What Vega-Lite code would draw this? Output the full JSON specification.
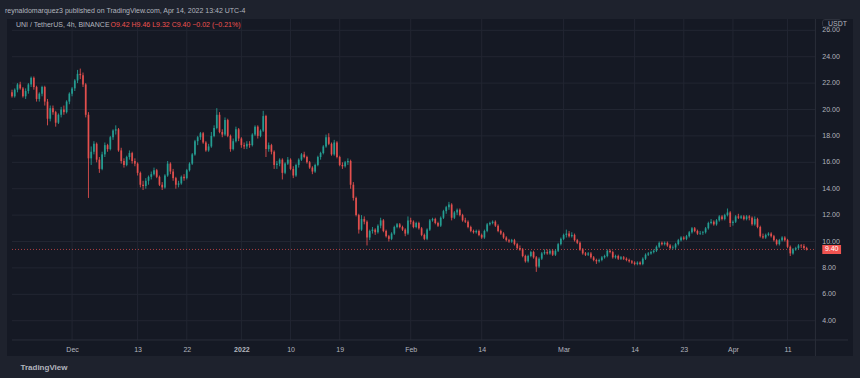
{
"$schema":"https://vega.github.io/schema/vega-lite/v6.json",
"width":846,"height":337,
"autosize":{"type":"none"},
"padding":{"left":7,"top":19,"right":7,"bottom":22},
"background":"#1e222d",
"view":{"fill":"#151924","stroke":null},
"config":{"font":"Liberation Sans","axis":{"labelOverlap":false,"labelBound":false}},
"title":{"text":"reynaldomarquez3 published on TradingView.com, Apr 14, 2022 13:42 UTC-4","anchor":"start","frame":"group","offset":5,"dx":-2,"fontSize":7,"fontWeight":"normal","color":"#b2b5be","font":"Liberation Sans"},
"datasets":{
"yg":[{"v":4},{"v":6},{"v":8},{"v":10},{"v":12},{"v":14},{"v":16},{"v":18},{"v":20},{"v":22},{"v":24},{"v":26}],
"xg":[{"d":"2021-12-01T00:00"},{"d":"2021-12-13T00:00"},{"d":"2021-12-22T00:00"},{"d":"2022-01-01T00:00"},{"d":"2022-01-10T00:00"},{"d":"2022-01-19T00:00"},{"d":"2022-02-01T00:00"},{"d":"2022-02-14T00:00"},{"d":"2022-03-01T00:00"},{"d":"2022-03-14T00:00"},{"d":"2022-03-23T00:00"},{"d":"2022-04-01T00:00"},{"d":"2022-04-11T00:00"}],
"k":[
{"t":"2021-11-20T00:00","o":21.3,"h":21.5,"l":20.9,"c":21.0},
{"t":"2021-11-20T12:00","o":21.0,"h":21.6,"l":20.9,"c":21.5},
{"t":"2021-11-21T00:00","o":21.5,"h":22.0,"l":21.3,"c":21.9},
{"t":"2021-11-21T12:00","o":21.9,"h":22.1,"l":21.5,"c":21.6},
{"t":"2021-11-22T00:00","o":21.6,"h":21.7,"l":20.9,"c":21.0},
{"t":"2021-11-22T12:00","o":21.0,"h":21.6,"l":20.8,"c":21.4},
{"t":"2021-11-23T00:00","o":21.4,"h":22.0,"l":21.2,"c":21.9},
{"t":"2021-11-23T12:00","o":21.9,"h":22.5,"l":21.7,"c":22.4},
{"t":"2021-11-24T00:00","o":22.4,"h":22.5,"l":21.5,"c":21.7},
{"t":"2021-11-24T12:00","o":21.7,"h":21.8,"l":20.6,"c":20.8},
{"t":"2021-11-25T00:00","o":20.8,"h":21.3,"l":20.6,"c":21.2},
{"t":"2021-11-25T12:00","o":21.2,"h":21.8,"l":21.0,"c":21.7},
{"t":"2021-11-26T00:00","o":21.7,"h":21.8,"l":20.3,"c":20.6},
{"t":"2021-11-26T12:00","o":20.6,"h":20.8,"l":18.8,"c":19.3},
{"t":"2021-11-27T00:00","o":19.3,"h":20.3,"l":19.1,"c":20.1},
{"t":"2021-11-27T12:00","o":20.1,"h":20.3,"l":19.6,"c":19.8},
{"t":"2021-11-28T00:00","o":19.8,"h":19.9,"l":18.7,"c":19.0},
{"t":"2021-11-28T12:00","o":19.0,"h":19.7,"l":18.9,"c":19.6},
{"t":"2021-11-29T00:00","o":19.6,"h":20.2,"l":19.4,"c":20.0},
{"t":"2021-11-29T12:00","o":20.0,"h":20.3,"l":19.6,"c":19.8},
{"t":"2021-11-30T00:00","o":19.8,"h":20.7,"l":19.7,"c":20.6},
{"t":"2021-11-30T12:00","o":20.6,"h":21.3,"l":20.4,"c":21.2},
{"t":"2021-12-01T00:00","o":21.2,"h":21.7,"l":21.0,"c":21.6},
{"t":"2021-12-01T12:00","o":21.6,"h":22.3,"l":21.4,"c":22.2},
{"t":"2021-12-02T00:00","o":22.2,"h":23.0,"l":22.0,"c":22.7},
{"t":"2021-12-02T12:00","o":22.7,"h":23.1,"l":22.3,"c":22.6},
{"t":"2021-12-03T00:00","o":22.6,"h":22.8,"l":21.7,"c":21.9},
{"t":"2021-12-03T12:00","o":21.9,"h":22.0,"l":19.4,"c":19.6},
{"t":"2021-12-04T00:00","o":19.6,"h":19.8,"l":13.3,"c":16.3},
{"t":"2021-12-04T12:00","o":16.3,"h":17.2,"l":15.8,"c":16.8},
{"t":"2021-12-05T00:00","o":16.8,"h":17.6,"l":16.6,"c":17.4},
{"t":"2021-12-05T12:00","o":17.4,"h":17.5,"l":16.0,"c":16.2},
{"t":"2021-12-06T00:00","o":16.2,"h":16.4,"l":15.2,"c":15.5},
{"t":"2021-12-06T12:00","o":15.5,"h":16.8,"l":15.4,"c":16.6},
{"t":"2021-12-07T00:00","o":16.6,"h":17.5,"l":16.4,"c":17.3},
{"t":"2021-12-07T12:00","o":17.3,"h":17.4,"l":16.8,"c":17.0},
{"t":"2021-12-08T00:00","o":17.0,"h":18.0,"l":16.9,"c":17.9},
{"t":"2021-12-08T12:00","o":17.9,"h":18.5,"l":17.7,"c":18.4},
{"t":"2021-12-09T00:00","o":18.4,"h":18.8,"l":18.1,"c":18.5},
{"t":"2021-12-09T12:00","o":18.5,"h":18.6,"l":16.8,"c":16.9},
{"t":"2021-12-10T00:00","o":16.9,"h":17.1,"l":15.9,"c":16.1},
{"t":"2021-12-10T12:00","o":16.1,"h":16.3,"l":15.6,"c":15.8},
{"t":"2021-12-11T00:00","o":15.8,"h":16.5,"l":15.7,"c":16.4},
{"t":"2021-12-11T12:00","o":16.4,"h":16.9,"l":16.2,"c":16.7},
{"t":"2021-12-12T00:00","o":16.7,"h":16.8,"l":15.9,"c":16.1},
{"t":"2021-12-12T12:00","o":16.1,"h":16.3,"l":15.7,"c":15.9},
{"t":"2021-12-13T00:00","o":15.9,"h":16.0,"l":15.0,"c":15.2},
{"t":"2021-12-13T12:00","o":15.2,"h":15.3,"l":14.1,"c":14.3},
{"t":"2021-12-14T00:00","o":14.3,"h":14.6,"l":13.9,"c":14.2},
{"t":"2021-12-14T12:00","o":14.2,"h":14.8,"l":14.0,"c":14.6},
{"t":"2021-12-15T00:00","o":14.6,"h":15.0,"l":14.3,"c":14.9},
{"t":"2021-12-15T12:00","o":14.9,"h":15.3,"l":14.7,"c":15.1},
{"t":"2021-12-16T00:00","o":15.1,"h":15.6,"l":15.0,"c":15.4},
{"t":"2021-12-16T12:00","o":15.4,"h":15.5,"l":14.8,"c":14.9},
{"t":"2021-12-17T00:00","o":14.9,"h":15.0,"l":14.2,"c":14.3},
{"t":"2021-12-17T12:00","o":14.3,"h":14.5,"l":13.9,"c":14.1},
{"t":"2021-12-18T00:00","o":14.1,"h":15.1,"l":14.0,"c":15.0},
{"t":"2021-12-18T12:00","o":15.0,"h":16.1,"l":14.9,"c":15.9},
{"t":"2021-12-19T00:00","o":15.9,"h":16.0,"l":15.1,"c":15.3},
{"t":"2021-12-19T12:00","o":15.3,"h":15.5,"l":14.6,"c":14.8},
{"t":"2021-12-20T00:00","o":14.8,"h":14.9,"l":14.0,"c":14.3},
{"t":"2021-12-20T12:00","o":14.3,"h":14.6,"l":14.1,"c":14.4},
{"t":"2021-12-21T00:00","o":14.4,"h":15.0,"l":14.3,"c":14.9},
{"t":"2021-12-21T12:00","o":14.9,"h":15.1,"l":14.6,"c":14.8},
{"t":"2021-12-22T00:00","o":14.8,"h":15.5,"l":14.7,"c":15.4},
{"t":"2021-12-22T12:00","o":15.4,"h":16.0,"l":15.3,"c":15.9},
{"t":"2021-12-23T00:00","o":15.9,"h":16.7,"l":15.8,"c":16.6},
{"t":"2021-12-23T12:00","o":16.6,"h":17.7,"l":16.5,"c":17.6},
{"t":"2021-12-24T00:00","o":17.6,"h":18.0,"l":17.3,"c":17.9},
{"t":"2021-12-24T12:00","o":17.9,"h":18.3,"l":17.7,"c":18.2},
{"t":"2021-12-25T00:00","o":18.2,"h":18.3,"l":17.4,"c":17.5},
{"t":"2021-12-25T12:00","o":17.5,"h":17.6,"l":16.8,"c":16.9},
{"t":"2021-12-26T00:00","o":16.9,"h":17.4,"l":16.8,"c":17.2},
{"t":"2021-12-26T12:00","o":17.2,"h":18.3,"l":17.1,"c":18.0},
{"t":"2021-12-27T00:00","o":18.0,"h":18.8,"l":17.9,"c":18.6},
{"t":"2021-12-27T12:00","o":18.6,"h":20.1,"l":18.5,"c":19.6},
{"t":"2021-12-28T00:00","o":19.6,"h":19.8,"l":18.2,"c":18.3},
{"t":"2021-12-28T12:00","o":18.3,"h":18.5,"l":17.9,"c":18.1},
{"t":"2021-12-29T00:00","o":18.1,"h":19.4,"l":18.0,"c":19.2},
{"t":"2021-12-29T12:00","o":19.2,"h":19.3,"l":17.9,"c":18.0},
{"t":"2021-12-30T00:00","o":18.0,"h":18.1,"l":16.8,"c":17.0},
{"t":"2021-12-30T12:00","o":17.0,"h":17.8,"l":16.9,"c":17.6},
{"t":"2021-12-31T00:00","o":17.6,"h":18.7,"l":17.5,"c":18.5},
{"t":"2021-12-31T12:00","o":18.5,"h":18.6,"l":17.6,"c":17.8},
{"t":"2022-01-01T00:00","o":17.8,"h":17.9,"l":17.1,"c":17.3},
{"t":"2022-01-01T12:00","o":17.3,"h":17.5,"l":17.0,"c":17.2},
{"t":"2022-01-02T00:00","o":17.2,"h":17.6,"l":17.0,"c":17.4},
{"t":"2022-01-02T12:00","o":17.4,"h":17.6,"l":17.1,"c":17.3},
{"t":"2022-01-03T00:00","o":17.3,"h":18.2,"l":17.2,"c":18.1},
{"t":"2022-01-03T12:00","o":18.1,"h":18.8,"l":18.0,"c":18.7},
{"t":"2022-01-04T00:00","o":18.7,"h":18.8,"l":17.8,"c":18.0},
{"t":"2022-01-04T12:00","o":18.0,"h":18.5,"l":17.9,"c":18.4},
{"t":"2022-01-05T00:00","o":18.4,"h":19.9,"l":18.3,"c":19.5},
{"t":"2022-01-05T12:00","o":19.5,"h":19.6,"l":16.4,"c":17.0},
{"t":"2022-01-06T00:00","o":17.0,"h":17.5,"l":16.8,"c":17.3},
{"t":"2022-01-06T12:00","o":17.3,"h":17.4,"l":16.6,"c":16.8},
{"t":"2022-01-07T00:00","o":16.8,"h":16.9,"l":15.5,"c":15.8},
{"t":"2022-01-07T12:00","o":15.8,"h":16.1,"l":15.5,"c":15.9},
{"t":"2022-01-08T00:00","o":15.9,"h":16.3,"l":15.7,"c":16.2},
{"t":"2022-01-08T12:00","o":16.2,"h":16.3,"l":14.7,"c":15.2},
{"t":"2022-01-09T00:00","o":15.2,"h":16.0,"l":15.1,"c":15.9},
{"t":"2022-01-09T12:00","o":15.9,"h":16.4,"l":15.8,"c":16.2},
{"t":"2022-01-10T00:00","o":16.2,"h":16.3,"l":15.4,"c":15.5},
{"t":"2022-01-10T12:00","o":15.5,"h":15.7,"l":14.8,"c":15.0},
{"t":"2022-01-11T00:00","o":15.0,"h":15.9,"l":14.9,"c":15.8},
{"t":"2022-01-11T12:00","o":15.8,"h":16.3,"l":15.6,"c":16.2},
{"t":"2022-01-12T00:00","o":16.2,"h":16.7,"l":16.1,"c":16.6},
{"t":"2022-01-12T12:00","o":16.6,"h":16.8,"l":16.3,"c":16.4},
{"t":"2022-01-13T00:00","o":16.4,"h":16.5,"l":15.9,"c":16.0},
{"t":"2022-01-13T12:00","o":16.0,"h":16.1,"l":15.5,"c":15.6},
{"t":"2022-01-14T00:00","o":15.6,"h":15.7,"l":15.1,"c":15.3},
{"t":"2022-01-14T12:00","o":15.3,"h":15.9,"l":15.2,"c":15.8},
{"t":"2022-01-15T00:00","o":15.8,"h":16.5,"l":15.7,"c":16.4},
{"t":"2022-01-15T12:00","o":16.4,"h":16.8,"l":16.2,"c":16.7},
{"t":"2022-01-16T00:00","o":16.7,"h":17.3,"l":16.6,"c":17.2},
{"t":"2022-01-16T12:00","o":17.2,"h":18.1,"l":17.1,"c":17.9},
{"t":"2022-01-17T00:00","o":17.9,"h":18.2,"l":17.3,"c":17.4},
{"t":"2022-01-17T12:00","o":17.4,"h":17.5,"l":16.5,"c":16.6},
{"t":"2022-01-18T00:00","o":16.6,"h":17.7,"l":16.5,"c":17.5},
{"t":"2022-01-18T12:00","o":17.5,"h":17.6,"l":16.3,"c":16.4},
{"t":"2022-01-19T00:00","o":16.4,"h":16.5,"l":15.7,"c":15.8},
{"t":"2022-01-19T12:00","o":15.8,"h":16.0,"l":15.5,"c":15.7},
{"t":"2022-01-20T00:00","o":15.7,"h":16.1,"l":15.6,"c":16.0},
{"t":"2022-01-20T12:00","o":16.0,"h":16.3,"l":15.8,"c":16.1},
{"t":"2022-01-21T00:00","o":16.1,"h":16.2,"l":14.0,"c":14.3},
{"t":"2022-01-21T12:00","o":14.3,"h":14.5,"l":13.1,"c":13.3},
{"t":"2022-01-22T00:00","o":13.3,"h":13.4,"l":11.9,"c":12.0},
{"t":"2022-01-22T12:00","o":12.0,"h":12.1,"l":10.6,"c":10.9},
{"t":"2022-01-23T00:00","o":10.9,"h":12.0,"l":10.8,"c":11.7},
{"t":"2022-01-23T12:00","o":11.7,"h":11.9,"l":11.3,"c":11.5},
{"t":"2022-01-24T00:00","o":11.5,"h":11.6,"l":9.7,"c":10.3},
{"t":"2022-01-24T12:00","o":10.3,"h":10.9,"l":10.1,"c":10.8},
{"t":"2022-01-25T00:00","o":10.8,"h":11.1,"l":10.6,"c":10.9},
{"t":"2022-01-25T12:00","o":10.9,"h":11.0,"l":10.5,"c":10.7},
{"t":"2022-01-26T00:00","o":10.7,"h":11.3,"l":10.6,"c":11.2},
{"t":"2022-01-26T12:00","o":11.2,"h":11.8,"l":11.0,"c":11.6},
{"t":"2022-01-27T00:00","o":11.6,"h":11.7,"l":10.7,"c":10.8},
{"t":"2022-01-27T12:00","o":10.8,"h":10.9,"l":10.3,"c":10.4},
{"t":"2022-01-28T00:00","o":10.4,"h":10.5,"l":10.0,"c":10.2},
{"t":"2022-01-28T12:00","o":10.2,"h":10.7,"l":10.1,"c":10.6},
{"t":"2022-01-29T00:00","o":10.6,"h":11.2,"l":10.5,"c":11.1},
{"t":"2022-01-29T12:00","o":11.1,"h":11.4,"l":11.0,"c":11.3},
{"t":"2022-01-30T00:00","o":11.3,"h":11.4,"l":11.0,"c":11.1},
{"t":"2022-01-30T12:00","o":11.1,"h":11.2,"l":10.8,"c":10.9},
{"t":"2022-01-31T00:00","o":10.9,"h":11.0,"l":10.4,"c":10.6},
{"t":"2022-01-31T12:00","o":10.6,"h":11.9,"l":10.5,"c":11.6},
{"t":"2022-02-01T00:00","o":11.6,"h":11.8,"l":11.3,"c":11.5},
{"t":"2022-02-01T12:00","o":11.5,"h":11.6,"l":11.0,"c":11.1},
{"t":"2022-02-02T00:00","o":11.1,"h":11.5,"l":11.0,"c":11.4},
{"t":"2022-02-02T12:00","o":11.4,"h":11.5,"l":10.9,"c":11.0},
{"t":"2022-02-03T00:00","o":11.0,"h":11.1,"l":10.4,"c":10.5},
{"t":"2022-02-03T12:00","o":10.5,"h":10.6,"l":10.1,"c":10.2},
{"t":"2022-02-04T00:00","o":10.2,"h":11.0,"l":10.1,"c":10.9},
{"t":"2022-02-04T12:00","o":10.9,"h":11.7,"l":10.8,"c":11.6},
{"t":"2022-02-05T00:00","o":11.6,"h":11.8,"l":11.5,"c":11.7},
{"t":"2022-02-05T12:00","o":11.7,"h":11.8,"l":11.3,"c":11.4},
{"t":"2022-02-06T00:00","o":11.4,"h":11.5,"l":11.1,"c":11.2},
{"t":"2022-02-06T12:00","o":11.2,"h":11.9,"l":11.1,"c":11.8},
{"t":"2022-02-07T00:00","o":11.8,"h":12.4,"l":11.7,"c":12.3},
{"t":"2022-02-07T12:00","o":12.3,"h":12.7,"l":12.1,"c":12.6},
{"t":"2022-02-08T00:00","o":12.6,"h":13.0,"l":12.4,"c":12.8},
{"t":"2022-02-08T12:00","o":12.8,"h":12.9,"l":11.6,"c":11.8},
{"t":"2022-02-09T00:00","o":11.8,"h":12.3,"l":11.7,"c":12.2},
{"t":"2022-02-09T12:00","o":12.2,"h":12.5,"l":12.0,"c":12.4},
{"t":"2022-02-10T00:00","o":12.4,"h":12.5,"l":11.9,"c":12.0},
{"t":"2022-02-10T12:00","o":12.0,"h":12.1,"l":11.5,"c":11.6},
{"t":"2022-02-11T00:00","o":11.6,"h":11.8,"l":11.4,"c":11.5},
{"t":"2022-02-11T12:00","o":11.5,"h":11.6,"l":11.0,"c":11.1},
{"t":"2022-02-12T00:00","o":11.1,"h":11.2,"l":10.7,"c":10.8},
{"t":"2022-02-12T12:00","o":10.8,"h":10.9,"l":10.6,"c":10.7},
{"t":"2022-02-13T00:00","o":10.7,"h":10.9,"l":10.6,"c":10.8},
{"t":"2022-02-13T12:00","o":10.8,"h":10.9,"l":10.4,"c":10.5},
{"t":"2022-02-14T00:00","o":10.5,"h":10.6,"l":10.2,"c":10.3},
{"t":"2022-02-14T12:00","o":10.3,"h":10.9,"l":10.2,"c":10.8},
{"t":"2022-02-15T00:00","o":10.8,"h":11.4,"l":10.7,"c":11.3},
{"t":"2022-02-15T12:00","o":11.3,"h":11.5,"l":11.2,"c":11.4},
{"t":"2022-02-16T00:00","o":11.4,"h":11.6,"l":11.3,"c":11.5},
{"t":"2022-02-16T12:00","o":11.5,"h":11.6,"l":11.1,"c":11.2},
{"t":"2022-02-17T00:00","o":11.2,"h":11.3,"l":10.7,"c":10.8},
{"t":"2022-02-17T12:00","o":10.8,"h":10.9,"l":10.5,"c":10.6},
{"t":"2022-02-18T00:00","o":10.6,"h":10.7,"l":10.2,"c":10.3},
{"t":"2022-02-18T12:00","o":10.3,"h":10.4,"l":10.0,"c":10.1},
{"t":"2022-02-19T00:00","o":10.1,"h":10.2,"l":9.9,"c":10.0},
{"t":"2022-02-19T12:00","o":10.0,"h":10.2,"l":9.9,"c":10.1},
{"t":"2022-02-20T00:00","o":10.1,"h":10.2,"l":9.7,"c":9.8},
{"t":"2022-02-20T12:00","o":9.8,"h":9.9,"l":9.4,"c":9.5},
{"t":"2022-02-21T00:00","o":9.5,"h":9.7,"l":9.3,"c":9.4},
{"t":"2022-02-21T12:00","o":9.4,"h":9.5,"l":8.8,"c":8.9},
{"t":"2022-02-22T00:00","o":8.9,"h":9.0,"l":8.4,"c":8.5},
{"t":"2022-02-22T12:00","o":8.5,"h":9.0,"l":8.4,"c":8.9},
{"t":"2022-02-23T00:00","o":8.9,"h":9.3,"l":8.8,"c":9.2},
{"t":"2022-02-23T12:00","o":9.2,"h":9.3,"l":8.7,"c":8.8},
{"t":"2022-02-24T00:00","o":8.8,"h":8.9,"l":7.7,"c":8.1},
{"t":"2022-02-24T12:00","o":8.1,"h":8.8,"l":8.0,"c":8.7},
{"t":"2022-02-25T00:00","o":8.7,"h":9.2,"l":8.6,"c":9.1},
{"t":"2022-02-25T12:00","o":9.1,"h":9.4,"l":9.0,"c":9.2},
{"t":"2022-02-26T00:00","o":9.2,"h":9.4,"l":9.0,"c":9.1},
{"t":"2022-02-26T12:00","o":9.1,"h":9.4,"l":9.0,"c":9.3},
{"t":"2022-02-27T00:00","o":9.3,"h":9.4,"l":8.9,"c":9.0},
{"t":"2022-02-27T12:00","o":9.0,"h":9.4,"l":8.9,"c":9.3},
{"t":"2022-02-28T00:00","o":9.3,"h":9.9,"l":9.2,"c":9.8},
{"t":"2022-02-28T12:00","o":9.8,"h":10.3,"l":9.7,"c":10.2},
{"t":"2022-03-01T00:00","o":10.2,"h":10.6,"l":10.1,"c":10.5},
{"t":"2022-03-01T12:00","o":10.5,"h":10.9,"l":10.3,"c":10.6},
{"t":"2022-03-02T00:00","o":10.6,"h":10.8,"l":10.3,"c":10.4},
{"t":"2022-03-02T12:00","o":10.4,"h":10.7,"l":10.3,"c":10.5},
{"t":"2022-03-03T00:00","o":10.5,"h":10.6,"l":10.0,"c":10.1},
{"t":"2022-03-03T12:00","o":10.1,"h":10.2,"l":9.8,"c":9.9},
{"t":"2022-03-04T00:00","o":9.9,"h":10.0,"l":9.3,"c":9.4},
{"t":"2022-03-04T12:00","o":9.4,"h":9.5,"l":9.0,"c":9.1},
{"t":"2022-03-05T00:00","o":9.1,"h":9.2,"l":8.9,"c":9.0},
{"t":"2022-03-05T12:00","o":9.0,"h":9.2,"l":8.9,"c":9.1},
{"t":"2022-03-06T00:00","o":9.1,"h":9.2,"l":8.7,"c":8.8},
{"t":"2022-03-06T12:00","o":8.8,"h":8.9,"l":8.5,"c":8.6},
{"t":"2022-03-07T00:00","o":8.6,"h":8.7,"l":8.3,"c":8.5},
{"t":"2022-03-07T12:00","o":8.5,"h":8.7,"l":8.4,"c":8.6},
{"t":"2022-03-08T00:00","o":8.6,"h":8.9,"l":8.5,"c":8.8},
{"t":"2022-03-08T12:00","o":8.8,"h":9.0,"l":8.7,"c":8.9},
{"t":"2022-03-09T00:00","o":8.9,"h":9.4,"l":8.8,"c":9.3},
{"t":"2022-03-09T12:00","o":9.3,"h":9.4,"l":9.1,"c":9.2},
{"t":"2022-03-10T00:00","o":9.2,"h":9.3,"l":8.7,"c":8.8},
{"t":"2022-03-10T12:00","o":8.8,"h":9.0,"l":8.7,"c":8.9},
{"t":"2022-03-11T00:00","o":8.9,"h":9.0,"l":8.6,"c":8.7},
{"t":"2022-03-11T12:00","o":8.7,"h":8.9,"l":8.6,"c":8.8},
{"t":"2022-03-12T00:00","o":8.8,"h":8.9,"l":8.6,"c":8.7},
{"t":"2022-03-12T12:00","o":8.7,"h":8.8,"l":8.5,"c":8.6},
{"t":"2022-03-13T00:00","o":8.6,"h":8.7,"l":8.4,"c":8.5},
{"t":"2022-03-13T12:00","o":8.5,"h":8.6,"l":8.3,"c":8.4},
{"t":"2022-03-14T00:00","o":8.4,"h":8.5,"l":8.2,"c":8.3},
{"t":"2022-03-14T12:00","o":8.3,"h":8.5,"l":8.2,"c":8.4},
{"t":"2022-03-15T00:00","o":8.4,"h":8.5,"l":8.2,"c":8.3},
{"t":"2022-03-15T12:00","o":8.3,"h":8.8,"l":8.2,"c":8.7},
{"t":"2022-03-16T00:00","o":8.7,"h":9.1,"l":8.6,"c":9.0},
{"t":"2022-03-16T12:00","o":9.0,"h":9.2,"l":8.9,"c":9.1},
{"t":"2022-03-17T00:00","o":9.1,"h":9.3,"l":9.0,"c":9.2},
{"t":"2022-03-17T12:00","o":9.2,"h":9.4,"l":9.1,"c":9.3},
{"t":"2022-03-18T00:00","o":9.3,"h":9.7,"l":9.2,"c":9.6},
{"t":"2022-03-18T12:00","o":9.6,"h":10.0,"l":9.5,"c":9.9},
{"t":"2022-03-19T00:00","o":9.9,"h":10.0,"l":9.7,"c":9.8},
{"t":"2022-03-19T12:00","o":9.8,"h":10.0,"l":9.7,"c":9.9},
{"t":"2022-03-20T00:00","o":9.9,"h":10.0,"l":9.6,"c":9.7},
{"t":"2022-03-20T12:00","o":9.7,"h":9.8,"l":9.4,"c":9.5},
{"t":"2022-03-21T00:00","o":9.5,"h":9.7,"l":9.4,"c":9.55},
{"t":"2022-03-21T12:00","o":9.55,"h":9.9,"l":9.4,"c":9.8},
{"t":"2022-03-22T00:00","o":9.8,"h":10.2,"l":9.7,"c":10.1},
{"t":"2022-03-22T12:00","o":10.1,"h":10.4,"l":10.0,"c":10.3},
{"t":"2022-03-23T00:00","o":10.3,"h":10.4,"l":10.1,"c":10.2},
{"t":"2022-03-23T12:00","o":10.2,"h":10.5,"l":10.1,"c":10.4},
{"t":"2022-03-24T00:00","o":10.4,"h":10.8,"l":10.3,"c":10.7},
{"t":"2022-03-24T12:00","o":10.7,"h":11.1,"l":10.6,"c":11.0},
{"t":"2022-03-25T00:00","o":11.0,"h":11.1,"l":10.7,"c":10.8},
{"t":"2022-03-25T12:00","o":10.8,"h":10.9,"l":10.5,"c":10.6},
{"t":"2022-03-26T00:00","o":10.6,"h":10.8,"l":10.5,"c":10.65},
{"t":"2022-03-26T12:00","o":10.65,"h":10.8,"l":10.5,"c":10.7},
{"t":"2022-03-27T00:00","o":10.7,"h":11.1,"l":10.6,"c":11.0},
{"t":"2022-03-27T12:00","o":11.0,"h":11.5,"l":10.9,"c":11.4},
{"t":"2022-03-28T00:00","o":11.4,"h":11.7,"l":11.3,"c":11.5},
{"t":"2022-03-28T12:00","o":11.5,"h":11.6,"l":11.2,"c":11.3},
{"t":"2022-03-29T00:00","o":11.3,"h":11.7,"l":11.2,"c":11.6},
{"t":"2022-03-29T12:00","o":11.6,"h":12.0,"l":11.5,"c":11.9},
{"t":"2022-03-30T00:00","o":11.9,"h":12.0,"l":11.6,"c":11.7},
{"t":"2022-03-30T12:00","o":11.7,"h":12.1,"l":11.6,"c":12.0},
{"t":"2022-03-31T00:00","o":12.0,"h":12.5,"l":11.9,"c":12.2},
{"t":"2022-03-31T12:00","o":12.2,"h":12.3,"l":11.1,"c":11.4},
{"t":"2022-04-01T00:00","o":11.4,"h":11.6,"l":11.2,"c":11.5},
{"t":"2022-04-01T12:00","o":11.5,"h":12.0,"l":11.4,"c":11.9},
{"t":"2022-04-02T00:00","o":11.9,"h":12.1,"l":11.7,"c":11.8},
{"t":"2022-04-02T12:00","o":11.8,"h":12.0,"l":11.7,"c":11.9},
{"t":"2022-04-03T00:00","o":11.9,"h":12.0,"l":11.6,"c":11.7},
{"t":"2022-04-03T12:00","o":11.7,"h":12.0,"l":11.6,"c":11.9},
{"t":"2022-04-04T00:00","o":11.9,"h":12.0,"l":11.6,"c":11.8},
{"t":"2022-04-04T12:00","o":11.8,"h":11.9,"l":11.2,"c":11.3},
{"t":"2022-04-05T00:00","o":11.3,"h":11.9,"l":11.2,"c":11.7},
{"t":"2022-04-05T12:00","o":11.7,"h":11.8,"l":11.0,"c":11.1},
{"t":"2022-04-06T00:00","o":11.1,"h":11.2,"l":10.3,"c":10.4},
{"t":"2022-04-06T12:00","o":10.4,"h":10.6,"l":10.2,"c":10.3},
{"t":"2022-04-07T00:00","o":10.3,"h":10.6,"l":10.2,"c":10.5},
{"t":"2022-04-07T12:00","o":10.5,"h":10.7,"l":10.4,"c":10.6},
{"t":"2022-04-08T00:00","o":10.6,"h":10.7,"l":10.3,"c":10.4},
{"t":"2022-04-08T12:00","o":10.4,"h":10.5,"l":10.0,"c":10.1},
{"t":"2022-04-09T00:00","o":10.1,"h":10.2,"l":9.7,"c":9.8},
{"t":"2022-04-09T12:00","o":9.8,"h":10.2,"l":9.7,"c":10.1},
{"t":"2022-04-10T00:00","o":10.1,"h":10.4,"l":10.0,"c":10.3},
{"t":"2022-04-10T12:00","o":10.3,"h":10.4,"l":10.0,"c":10.1},
{"t":"2022-04-11T00:00","o":10.1,"h":10.2,"l":9.5,"c":9.6},
{"t":"2022-04-11T12:00","o":9.6,"h":9.7,"l":8.9,"c":9.1},
{"t":"2022-04-12T00:00","o":9.1,"h":9.5,"l":9.0,"c":9.4},
{"t":"2022-04-12T12:00","o":9.4,"h":9.6,"l":9.3,"c":9.5},
{"t":"2022-04-13T00:00","o":9.5,"h":9.8,"l":9.4,"c":9.7},
{"t":"2022-04-13T12:00","o":9.7,"h":9.8,"l":9.5,"c":9.65},
{"t":"2022-04-14T00:00","o":9.65,"h":9.8,"l":9.4,"c":9.5},
{"t":"2022-04-14T12:00","o":9.5,"h":9.6,"l":9.32,"c":9.4}
]},
"layer":[
{"data":{"name":"yg"},"mark":{"type":"rule","color":"#222632","strokeWidth":1},
 "encoding":{"y":{"field":"v","type":"quantitative"},
  "x":{"datum":{"year":2021,"month":11,"date":20,"hours":0},"type":"temporal"},
  "x2":{"datum":{"year":2022,"month":4,"date":16,"hours":2,"minutes":30}}}},
{"data":{"name":"xg"},"mark":{"type":"rule","color":"#222632","strokeWidth":1},
 "encoding":{"x":{"field":"d","type":"temporal"},"y":{"datum":26.856,"type":"quantitative"},"y2":{"datum":2.54}}},
{"data":{"values":[{"b":"price scale edge"}]},"mark":{"type":"rule","color":"#2a2e39","strokeWidth":1},
 "encoding":{"x":{"datum":{"year":2022,"month":4,"date":16,"hours":2,"minutes":30},"type":"temporal"},"y":{"datum":26.856,"type":"quantitative"},"y2":{"datum":1.326}}},
{"data":{"values":[{"b":"time scale edge"}]},"mark":{"type":"rule","color":"#2a2e39","strokeWidth":1},
 "encoding":{"y":{"datum":2.54,"type":"quantitative"},"x":{"datum":{"year":2021,"month":11,"date":20,"hours":0},"type":"temporal"},"x2":{"datum":{"year":2022,"month":4,"date":22,"hours":1,"minutes":40}}}},
{"data":{"values":[{"last":9.4}]},"mark":{"type":"rule","color":"#ef5350","strokeWidth":1,"strokeDash":[1,2],"opacity":0.7},
 "encoding":{"y":{"field":"last","type":"quantitative"},"x":{"datum":{"year":2021,"month":11,"date":20,"hours":0},"type":"temporal"},"x2":{"datum":{"year":2022,"month":4,"date":16,"hours":2,"minutes":30}}}},
{"data":{"name":"k"},"mark":{"type":"rule","strokeWidth":1,"opacity":0.82},
 "encoding":{"x":{"field":"t","type":"temporal"},"y":{"field":"l","type":"quantitative"},"y2":{"field":"h"},
  "color":{"condition":{"test":"datum.c >= datum.o","value":"#26a69a"},"value":"#ef5350"}}},
{"data":{"name":"k"},"mark":{"type":"bar","size":1.8,"opacity":0.82},
 "encoding":{
  "x":{"field":"t","type":"temporal",
   "scale":{"domain":[{"year":2021,"month":11,"date":20,"hours":0},{"year":2022,"month":4,"date":22,"hours":1,"minutes":40}]},
   "axis":{"orient":"bottom","offset":-7,"domain":false,"ticks":false,"grid":false,"labelPadding":0,"labelBaseline":"middle","labelFlush":false,"labelOverlap":false,
    "values":[{"year":2021,"month":12,"date":1},{"year":2021,"month":12,"date":13},{"year":2021,"month":12,"date":22},{"year":2022,"month":1,"date":1},{"year":2022,"month":1,"date":10},{"year":2022,"month":1,"date":19},{"year":2022,"month":2,"date":1},{"year":2022,"month":2,"date":14},{"year":2022,"month":3,"date":1},{"year":2022,"month":3,"date":14},{"year":2022,"month":3,"date":23},{"year":2022,"month":4,"date":1},{"year":2022,"month":4,"date":11}],
    "labelExpr":"date(datum.value)==1 ? (month(datum.value)==0 ? timeFormat(datum.value,'%Y') : timeFormat(datum.value,'%b')) : timeFormat(datum.value,'%-d')",
    "labelFontWeight":{"condition":{"test":"month(datum.value)==0 && date(datum.value)==1","value":"bold"},"value":"normal"},
    "labelColor":"#b2b5be","labelFontSize":7,
    "title":"TradingView","titleX":13,"titleY":18,"titleAlign":"left","titleBaseline":"middle","titleFontSize":8,"titleFontWeight":"bold","titleColor":"#b2b5be"}},
  "y":{"field":"o","type":"quantitative",
   "scale":{"domain":[1.326,26.856],"nice":false,"zero":false},
   "axis":{"orient":"right","offset":-26,"domain":false,"ticks":false,"grid":false,"labels":false,"zindex":1,
    "title":"USDT","titleAngle":0,"titleX":10,"titleY":4,"titleAlign":"center","titleBaseline":"middle","titleFontSize":7,"titleFontWeight":"normal","titleColor":"#b2b5be"}},
  "y2":{"field":"c"},
  "color":{"condition":{"test":"datum.c >= datum.o","value":"#26a69a"},"value":"#ef5350"}}},
{"data":{"name":"yg"},"mark":{"type":"text","align":"left","baseline":"middle","fontSize":7,"color":"#b2b5be"},
 "encoding":{"text":{"field":"v","type":"quantitative","format":".2f"},"x":{"datum":{"year":2022,"month":4,"date":17,"hours":8,"minutes":40},"type":"temporal"},"y":{"field":"v","type":"quantitative"}}},
{"data":{"values":[{"lo":26.27,"hi":26.8}]},"mark":{"type":"rect","fill":"#151924","stroke":"#363a45","strokeWidth":1,"cornerRadius":2},
 "encoding":{"x":{"datum":{"year":2022,"month":4,"date":17,"hours":10},"type":"temporal"},"x2":{"datum":{"year":2022,"month":4,"date":20,"hours":20}},"y":{"field":"lo","type":"quantitative"},"y2":{"field":"hi"}}},
{"data":{"values":[{"s":"UNI / TetherUS, 4h, BINANCE"}]},"mark":{"type":"text","align":"left","baseline":"middle","fontSize":7,"color":"#b2b5be"},
 "encoding":{"text":{"field":"s"},"x":{"datum":{"year":2021,"month":11,"date":20,"hours":17,"minutes":20},"type":"temporal"},"y":{"datum":26.4,"type":"quantitative"}}},
{"data":{"values":[{"s":"O9.42 H9.46 L9.32 C9.40 −0.02 (−0.21%)"}]},"mark":{"type":"text","align":"left","baseline":"middle","fontSize":7,"color":"#ef5350"},
 "encoding":{"text":{"field":"s"},"x":{"datum":{"year":2021,"month":12,"date":8,"hours":1},"type":"temporal"},"y":{"datum":26.4,"type":"quantitative"}}},
{"data":{"values":[{"lo":9.053,"hi":9.735}]},"mark":{"type":"rect","color":"#ef5350"},
 "encoding":{"x":{"datum":{"year":2022,"month":4,"date":17,"hours":8,"minutes":40},"type":"temporal"},"x2":{"datum":{"year":2022,"month":4,"date":20,"hours":19,"minutes":12}},"y":{"field":"lo","type":"quantitative"},"y2":{"field":"hi"}}},
{"data":{"values":[{"s":"9.40","v":9.4}]},"mark":{"type":"text","align":"center","baseline":"middle","fontSize":7,"color":"#ffffff"},
 "encoding":{"text":{"field":"s"},"x":{"datum":{"year":2022,"month":4,"date":19,"hours":2},"type":"temporal"},"y":{"field":"v","type":"quantitative"}}}
]
}
